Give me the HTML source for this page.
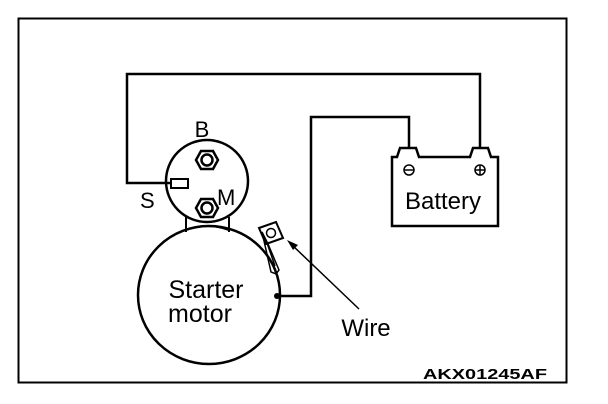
<!DOCTYPE html>
<html><head><style>body{margin:0;background:#fff}svg{display:block}</style></head>
<body>
<svg width="608" height="404" viewBox="0 0 608 404" xmlns="http://www.w3.org/2000/svg" font-family="Liberation Sans, sans-serif">
<rect x="18.5" y="18.5" width="548" height="364" fill="none" stroke="#000" stroke-width="2"/>
<g fill="none" stroke="#000" stroke-width="2.5">
<polyline points="171,183 127,183 127,74 480,74 480,147"/>
<polyline points="278,296 311,296 311,117 409,117 409,147"/>
<path d="M392,226 V157 H397 L400,148 H416 L419,157 H470 L473,148 H488 L491,157 H498 V226 Z"/>
<circle cx="207" cy="181" r="41"/>
<rect x="171" y="179" width="17" height="9" stroke-width="2"/>
<line x1="186" y1="217" x2="186" y2="232" stroke-width="2"/>
<line x1="229" y1="217" x2="229" y2="232" stroke-width="2"/>
<path d="M186,230 Q207,222 229,230" stroke-width="2"/>
<ellipse cx="209" cy="295" rx="71" ry="69"/>
</g>
<g fill="none" stroke="#000" stroke-width="2.5">
<polygon points="196,160 201,151 213,151 218,160 213,169 201,169"/>
<circle cx="207" cy="160" r="5.5"/>
<polygon points="196,208 201,199 213,199 218,208 213,217 201,217"/>
<circle cx="207" cy="208" r="5.5"/>
<circle cx="409" cy="170" r="5" stroke-width="1.5"/>
<line x1="404" y1="170" x2="414" y2="170" stroke-width="1.5"/>
<circle cx="480" cy="170" r="5" stroke-width="1.5"/>
<line x1="475" y1="170" x2="485" y2="170" stroke-width="1.5"/>
<line x1="480" y1="165" x2="480" y2="175" stroke-width="1.5"/>
<polygon points="259,228 276,222 283,238 266,244" stroke-width="2"/>
<circle cx="271" cy="233" r="4.5" stroke-width="1.5"/>
<polygon points="262,232 268,244 279,270 276,274 271,272" stroke-width="1.5"/>
<line x1="266" y1="240" x2="275" y2="266" stroke-width="1.5"/>
</g>
<circle cx="277" cy="296" r="3" fill="#000"/>
<line x1="359" y1="309" x2="291" y2="244" stroke="#000" stroke-width="1.5"/>
<polygon points="287,240 298,245 293,250" fill="#000"/>
<g font-size="24" fill="#000">
<text x="202" y="137" text-anchor="middle" font-size="22">B</text>
<text x="217" y="205" font-size="22">M</text>
<text x="140" y="208" font-size="22">S</text>
<text x="443" y="209" text-anchor="middle">Battery</text>
<text x="206" y="298" text-anchor="middle" font-size="25">Starter</text>
<text x="200" y="322" text-anchor="middle" font-size="25">motor</text>
<text x="366" y="336" text-anchor="middle">Wire</text>
<text x="423" y="379" font-size="15" font-weight="bold" textLength="124" lengthAdjust="spacingAndGlyphs">AKX01245AF</text>
</g>
</svg>
</body></html>
